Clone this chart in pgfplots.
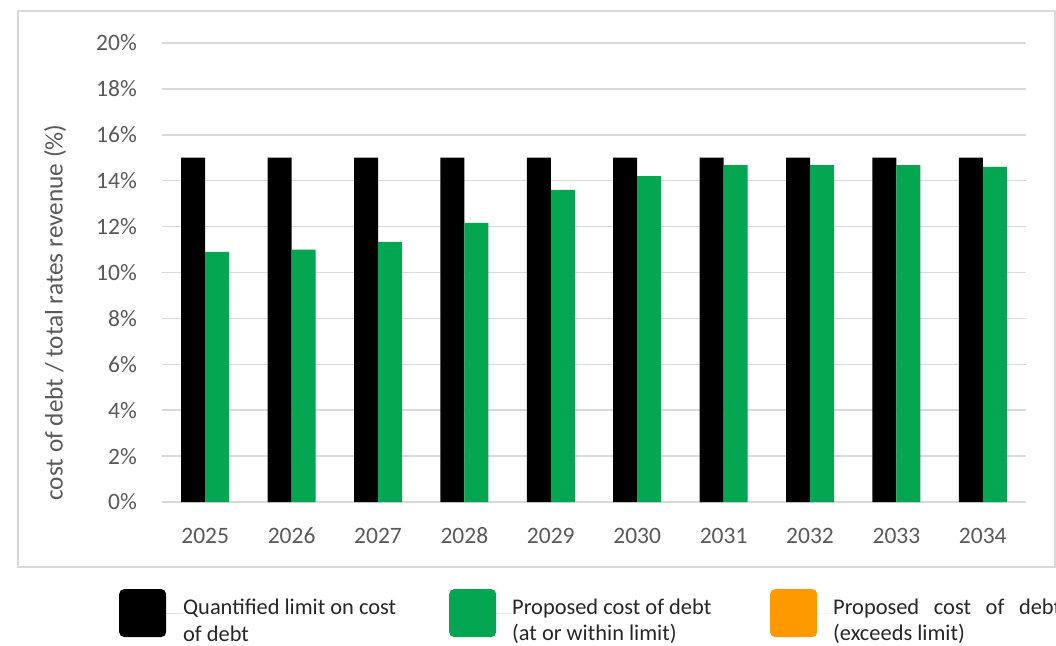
\documentclass[border=0pt]{standalone}
\usepackage{pgfplots}
\pgfplotsset{compat=1.18}
\usepackage{fontspec}
\setmainfont{Carlito}
\definecolor{bargreen}{RGB}{4,166,82}
\definecolor{barorange}{RGB}{255,153,0}
\definecolor{gridgray}{RGB}{217,217,217}
\definecolor{ticktext}{RGB}{89,89,89}
\begin{document}
\begin{tikzpicture}
\path[use as bounding box] (0,0) rectangle (1056pt,645pt);
\draw[gridgray, line width=1.5pt] (18pt,634pt) rectangle (1055pt,78pt);
\begin{axis}[
  at={(162pt,143pt)}, anchor=south west,
  scale only axis, width=864pt, height=459pt,
  ybar=0pt, bar width=24pt,
  xmin=-0.5, xmax=9.5, ymin=0, ymax=20,
  xtick={0,...,9},
  xticklabels={2025,2026,2027,2028,2029,2030,2031,2032,2033,2034},
  ytick={0,2,...,20},
  yticklabels={0\%,2\%,4\%,6\%,8\%,10\%,12\%,14\%,16\%,18\%,20\%},
  major tick length=0pt,
  axis line style={draw=none},
  ymajorgrids, major grid style={gridgray, line width=1.5pt},
  tick label style={text=ticktext, font=\fontsize{23.5}{27}\selectfont, inner sep=0pt},
  yticklabel style={xshift=-25pt},
  xticklabel style={anchor=base, yshift=-41pt},
  ylabel={cost of debt / total rates revenue (\%)},
  ylabel style={at={(axis description cs:-0.1238,0.413)}, anchor=center, text=ticktext, font=\fontsize{25.3}{29}\selectfont},
  legend style={at={(axis description cs:-0.0498,-0.2420)}, anchor=west, draw=none, fill=none, inner sep=0pt, column sep=0pt,
    font=\fontsize{22.4}{26.5}\selectfont, text=black!85, nodes={inner sep=0pt}},
  legend columns=3, legend cell align=left,
]
\addplot[fill=black, draw=none, legend image code/.code={\fill[rounded corners=5pt] (0pt,-24pt) rectangle (47pt,24pt); \path (0pt,0pt) -- (64pt,0pt);}]
  coordinates {(0,15) (1,15) (2,15) (3,15) (4,15) (5,15) (6,15) (7,15) (8,15) (9,15)};
\addlegendentry{\parbox{266pt}{Quantified limit on cost\\of debt}}
\addplot[fill=bargreen, draw=none, legend image code/.code={\fill[rounded corners=5pt] (0pt,-24pt) rectangle (47pt,24pt); \path (0pt,0pt) -- (63pt,0pt);}]
  coordinates {(0,10.9) (1,11.0) (2,11.33) (3,12.16) (4,13.6) (5,14.2) (6,14.68) (7,14.68) (8,14.68) (9,14.6)};
\addlegendentry{\parbox{258pt}{Proposed cost of debt\\(at or within limit)}}
\addlegendimage{fill=barorange, draw=none, legend image code/.code={\fill[rounded corners=5pt] (0pt,-24pt) rectangle (47pt,24pt); \path (0pt,0pt) -- (63pt,0pt);}}
\addlegendentry{\parbox{228pt}{\makebox[228pt][s]{Proposed cost of debt}\\(exceeds limit)}}
\end{axis}
\end{tikzpicture}
\end{document}
